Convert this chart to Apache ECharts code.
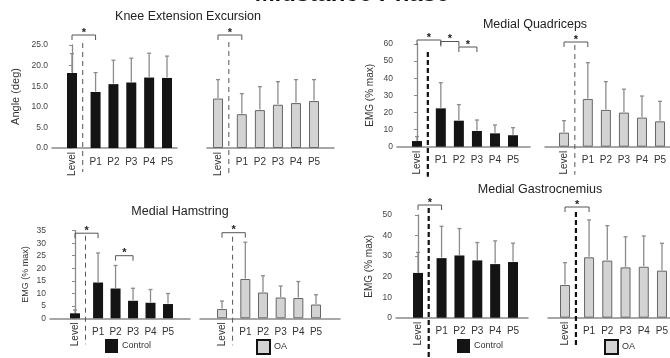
<!DOCTYPE html>
<html><head><meta charset="utf-8">
<script src="https://cdn.jsdelivr.net/npm/echarts@6/dist/echarts.min.js"></script>
<style>html,body{margin:0;padding:0;background:#fff}#c{width:670px;height:358px}</style>
</head><body><div id="c"></div>
<script>
// ---- data ----
const categories = ['Level', 'P1', 'P2', 'P3', 'P4', 'P5'];
const kneeControl   = [18.2, 13.6, 15.5, 15.9, 17.1, 17.0];
const kneeControlSD = [4.7, 4.7, 5.8, 5.9, 5.9, 5.3];
const kneeOA        = [12.0, 8.2, 9.2, 10.5, 10.9, 11.4];
const kneeOASD      = [4.6, 5.0, 5.7, 5.6, 5.7, 5.2];
const quadControl   = [3.3, 22.4, 15.2, 9.2, 7.8, 6.7];
const quadControlSD = [2.6, 15.0, 9.4, 6.4, 4.9, 4.4];
const quadOA        = [8.2, 27.9, 21.5, 19.9, 17.0, 14.8];
const quadOASD      = [7.0, 21.2, 16.5, 13.7, 12.6, 11.7];
const hamControl    = [2.0, 14.3, 11.9, 7.0, 6.2, 5.7];
const hamControlSD  = [1.3, 11.8, 9.2, 5.0, 5.3, 4.2];
const hamOA         = [3.7, 15.7, 10.3, 8.3, 8.1, 5.5];
const hamOASD       = [3.2, 14.7, 6.7, 4.6, 6.6, 3.9];
const gastroControl   = [21.8, 29.0, 30.3, 27.9, 26.1, 27.1];
const gastroControlSD = [10.0, 15.5, 13.1, 8.7, 11.3, 9.2];
const gastroOA        = [15.9, 29.4, 27.8, 24.5, 24.8, 22.9];
const gastroOASD      = [10.9, 18.2, 17.0, 14.9, 15.0, 13.3];
// significant pairs (category indices)
const kneeControlSig = [[0, 1]];
const kneeOASig = [[0, 1]];
const quadControlSig = [[0, 1], [1, 2], [2, 3]];
const quadOASig = [[0, 1]];
const hamControlSig = [[0, 1], [2, 3]];
const hamOASig = [[0, 1]];
const gastroControlSig = [[0, 1]];
const gastroOASig = [[0, 1]];

// ---- layout ----
const slotPos = [0, 1.32, 2.32, 3.32, 4.32, 5.32];
const dashSlot = 0.6;
const groups = [
  {mean: kneeControl, sd: kneeControlSD, kind: 'Control', L: 52, R: 177, top: 45, bottom: 148, x0: 72, s: 17.86, yMax: 25, yInt: 5, dec: 1, showY: true, yName: 'Angle (deg)', nameGap: 31, nameSize: 11, sig: kneeControlSig, sigH: [10], dT: 2, dB: 24, bold: false},
  {mean: kneeOA, sd: kneeOASD, kind: 'OA', L: 207, R: 334, top: 45, bottom: 148, x0: 218, s: 18.05, yMax: 25, yInt: 5, sig: kneeOASig, sigH: [10], dT: 3, dB: 25, bold: false},
  {mean: quadControl, sd: quadControlSD, kind: 'Control', L: 397, R: 530, top: 44, bottom: 146.7, x0: 417, s: 18.05, yMax: 60, yInt: 10, dec: 0, showY: true, yName: 'EMG (% max)', nameGap: 22, nameSize: 10, sig: quadControlSig, sigH: [4, 2.5, -3], dT: -8, dB: 30, bold: true},
  {mean: quadOA, sd: quadOASD, kind: 'OA', L: 545, R: 670, top: 44, bottom: 146.7, x0: 564, s: 18.05, yMax: 60, yInt: 10, sig: quadOASig, sigH: [2], dT: -1, dB: 28, bold: false},
  {mean: hamControl, sd: hamControlSD, kind: 'Control', L: 50, R: 190, top: 230.7, bottom: 318.3, x0: 75, s: 17.48, yMax: 35, yInt: 5, dec: 0, showY: true, yName: 'EMG (% max)', nameGap: 20, nameSize: 9, sig: hamControlSig, sigH: [-2.5, -25], dT: -5, dB: 26, bold: false},
  {mean: hamOA, sd: hamOASD, kind: 'OA', L: 200, R: 340, top: 230.7, bottom: 318.3, x0: 222, s: 17.67, yMax: 35, yInt: 5, sig: hamOASig, sigH: [-2], dT: -6, dB: 27, bold: false},
  {mean: gastroControl, sd: gastroControlSD, kind: 'Control', L: 396, R: 528, top: 215, bottom: 317.7, x0: 418, s: 17.86, yMax: 50, yInt: 10, dec: 0, showY: true, yName: 'EMG (% max)', nameGap: 22, nameSize: 10, sig: gastroControlSig, sigH: [10], dT: 7, dB: 40, bold: true},
  {mean: gastroOA, sd: gastroOASD, kind: 'OA', L: 548, R: 670, top: 215, bottom: 317.7, x0: 565, s: 18.23, yMax: 50, yInt: 10, sig: gastroOASig, sigH: [8], dT: 3, dB: 29, bold: true}
];
const FONT = '"Liberation Sans", Arial, sans-serif';
const AXIS_GRAY = '#8a8a8a';
const ERR_GRAY = '#8c8c8c';
const CONTROL_COLOR = '#141414';
const OA_COLOR = '#d3d3d3';
const OA_BORDER = '#666';

const grid = [], xAxis = [], yAxis = [], series = [];
groups.forEach((g, i) => {
  const min = (g.L - g.x0) / g.s, max = (g.R - g.x0) / g.s;
  grid.push({left: g.L, top: g.top, width: g.R - g.L, height: g.bottom - g.top, outerBoundsMode: 'none', containLabel: false});
  xAxis.push({
    type: 'value', gridIndex: i, min: min, max: max, position: 'bottom',
    axisLine: {show: true, onZero: false, lineStyle: {color: AXIS_GRAY, width: 1.5}},
    axisTick: {show: false}, splitLine: {show: false},
    axisLabel: {
      customValues: slotPos.slice(1), margin: 9, fontSize: 10, color: '#333', fontFamily: FONT,
      formatter: v => { let b = 0; slotPos.forEach((p, k) => { if (Math.abs(p - v) < Math.abs(slotPos[b] - v)) b = k; }); return categories[b]; }
    }
  });
  xAxis.push({
    type: 'value', gridIndex: i, min: min, max: max, position: 'bottom',
    axisLine: {show: false}, axisTick: {show: false}, splitLine: {show: false},
    axisLabel: {customValues: [slotPos[0]], rotate: 90, margin: 4, fontSize: 10, color: '#333', fontFamily: FONT, formatter: () => categories[0]}
  });
  yAxis.push({
    type: 'value', gridIndex: i, min: 0, max: g.yMax, interval: g.yInt, show: !!g.showY,
    name: g.yName || '', nameLocation: 'middle', nameGap: g.nameGap || 20,
    nameTextStyle: {fontSize: g.nameSize || 10, color: '#333', fontFamily: FONT},
    axisLine: {show: true, lineStyle: {color: AXIS_GRAY, width: 1.3}},
    axisTick: {show: true, length: 3, lineStyle: {color: AXIS_GRAY}},
    splitLine: {show: false},
    axisLabel: {fontSize: 8.5, color: '#444', margin: 4, fontFamily: FONT, formatter: v => v.toFixed(g.dec || 0)}
  });
  const isC = g.kind === 'Control';
  series.push({
    type: 'bar', name: g.kind, xAxisIndex: 2 * i, yAxisIndex: i, barWidth: 10,
    data: g.mean.map((v, k) => [slotPos[k], v]),
    itemStyle: isC ? {color: CONTROL_COLOR} : {color: OA_COLOR, borderColor: OA_BORDER, borderWidth: 1},
    emphasis: {disabled: true}, silent: true, z: 2
  });
  series.push({
    type: 'custom', name: g.kind + ' SD', xAxisIndex: 2 * i, yAxisIndex: i, z: 3, silent: true,
    data: g.mean.map((v, k) => [slotPos[k], v, v + g.sd[k]]),
    encode: {x: 0, y: [1, 2]},
    renderItem: (params, api) => {
      const x = api.value(0);
      const p0 = api.coord([x, api.value(1)]), p1 = api.coord([x, api.value(2)]);
      const st = {stroke: ERR_GRAY, lineWidth: 1.3};
      return {type: 'group', children: [
        {type: 'line', shape: {x1: p0[0], y1: p0[1] - 0.5, x2: p1[0], y2: p1[1]}, style: st},
        {type: 'line', shape: {x1: p1[0] - 2, y1: p1[1], x2: p1[0] + 2, y2: p1[1]}, style: st}
      ]};
    }
  });
  series.push({
    type: 'custom', name: 'decor' + i, xAxisIndex: 2 * i, yAxisIndex: i, z: 4, silent: true, clip: false,
    data: [[dashSlot, 0]],
    renderItem: (params, api) => {
      const topPt = api.coord([dashSlot, g.yMax]), basePt = api.coord([dashSlot, 0]);
      const ch = [];
      ch.push({type: 'line', shape: {x1: topPt[0], y1: topPt[1] - g.dT, x2: basePt[0], y2: basePt[1] + g.dB},
        style: {stroke: g.bold ? '#111' : '#555', lineWidth: g.bold ? 2.2 : 1, lineDash: g.bold ? [5, 3] : [5, 4]}});
      g.sig.forEach((pr, j) => {
        const a = api.coord([slotPos[pr[0]], g.yMax]), b = api.coord([slotPos[pr[1]], g.yMax]);
        const y = a[1] - g.sigH[j];
        ch.push({type: 'polyline', shape: {points: [[a[0], y + 5], [a[0], y], [b[0], y], [b[0], y + 5]]},
          style: {stroke: '#555', lineWidth: 1, fill: null}});
        ch.push({type: 'text', x: (a[0] + b[0]) / 2, y: y + 3,
          style: {text: '*', fill: '#222', font: 'bold 11px ' + FONT, align: 'center', verticalAlign: 'bottom'}});
      });
      return {type: 'group', children: ch};
    }
  });
});

const titleStyle = {fontSize: 12.5, fontWeight: 'normal', color: '#222', fontFamily: FONT};
const option = {
  animation: false,
  backgroundColor: '#fff',
  title: [
    {text: 'Knee Extension Excursion', left: 188, top: 10, textAlign: 'center', textStyle: titleStyle, padding: 0},
    {text: 'Medial Quadriceps', left: 535, top: 18, textAlign: 'center', textStyle: titleStyle, padding: 0},
    {text: 'Medial Hamstring', left: 180, top: 205, textAlign: 'center', textStyle: titleStyle, padding: 0},
    {text: 'Medial Gastrocnemius', left: 540, top: 183, textAlign: 'center', textStyle: titleStyle, padding: 0}
  ],
  legend: [
    {left: 105, top: 339, icon: 'rect', itemWidth: 13, itemHeight: 14, selectedMode: false, padding: 0,
      data: [{name: 'Control', itemStyle: {color: CONTROL_COLOR}}], textStyle: {fontSize: 9, color: '#333', fontFamily: FONT, padding: [0, 0, 0, -1]}},
    {left: 256, top: 339, icon: 'rect', itemWidth: 13, itemHeight: 14, selectedMode: false, padding: 0,
      data: [{name: 'OA', itemStyle: {color: OA_COLOR, borderColor: '#111', borderWidth: 2}}], textStyle: {fontSize: 9, color: '#333', fontFamily: FONT, padding: [0, 0, 0, -1]}},
    {left: 457, top: 339, icon: 'rect', itemWidth: 13, itemHeight: 14, selectedMode: false, padding: 0,
      data: [{name: 'Control', itemStyle: {color: CONTROL_COLOR}}], textStyle: {fontSize: 9, color: '#333', fontFamily: FONT, padding: [0, 0, 0, -1]}},
    {left: 604, top: 339, icon: 'rect', itemWidth: 13, itemHeight: 14, selectedMode: false, padding: 0,
      data: [{name: 'OA', itemStyle: {color: OA_COLOR, borderColor: '#111', borderWidth: 2}}], textStyle: {fontSize: 9, color: '#333', fontFamily: FONT, padding: [0, 0, 0, -1]}}
  ],
  graphic: [
    {type: 'text', x: 352, y: 6, style: {text: 'Midstance Phase', font: 'bold 24px ' + FONT, fill: '#111', textAlign: 'center', textVerticalAlign: 'bottom'}}
  ],
  grid: grid, xAxis: xAxis, yAxis: yAxis, series: series
};
const chart = echarts.init(document.getElementById('c'), null, {renderer: 'canvas'});
chart.setOption(option);
</script></body></html>
